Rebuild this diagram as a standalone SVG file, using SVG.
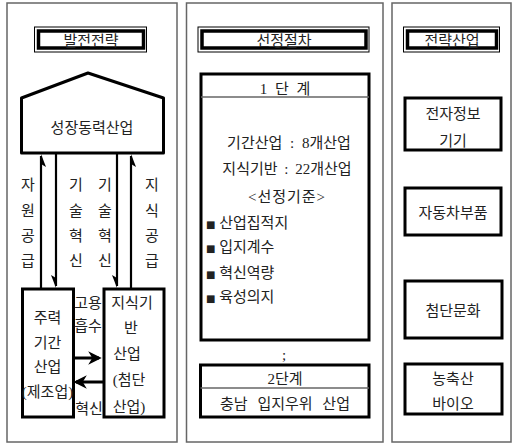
<svg xmlns="http://www.w3.org/2000/svg" width="514" height="445" viewBox="0 0 514 445">
<defs>
<style>
.panel{fill:#fff;stroke:#666;stroke-width:1.5}
.box{fill:#fff;stroke:#000;stroke-width:3}
.thin{fill:none;stroke:#000;stroke-width:1}
.t{font-family:"Liberation Serif","Noto Sans CJK KR",serif;font-size:15px;fill:#222;text-anchor:middle}
.tl{font-family:"Liberation Serif","Noto Sans CJK KR",serif;font-size:15px;fill:#222}
.ln{stroke:#000;stroke-width:2.2;fill:none}
.hd{fill:#000}
.ha{stroke:#000;stroke-width:3;fill:none}
</style>
<marker id="ah" viewBox="0 0 10 10" refX="8" refY="5" markerWidth="4.5" markerHeight="4.5" orient="auto" markerUnits="strokeWidth">
<path d="M0,0 L10,5 L0,10 L3,5 z" fill="#000"/>
</marker>
</defs>
<rect width="514" height="445" fill="#fff"/>
<g id="panels">
<rect class="panel" x="7" y="3" width="170" height="439"/>
<rect class="panel" x="186.5" y="3" width="196.5" height="439"/>
<rect class="panel" x="392" y="3" width="119" height="439"/>
</g>
<g id="title1">
<rect class="thin" x="34.5" y="27" width="112" height="25"/>
<rect x="38.5" y="31" width="105" height="17" fill="none" stroke="#000" stroke-width="3.5"/>
<text class="t" x="91" y="46">발전전략</text>
</g>
<g id="title2">
<rect class="thin" x="198" y="27" width="171" height="25"/>
<rect x="202" y="31" width="164" height="17" fill="none" stroke="#000" stroke-width="3.5"/>
<text class="t" x="284" y="46">선정절차</text>
</g>
<g id="title3">
<rect class="thin" x="403.5" y="27" width="96" height="25"/>
<rect x="407.5" y="31" width="89" height="17" fill="none" stroke="#000" stroke-width="3.5"/>
<text class="t" x="452" y="46">전략산업</text>
</g>
<g id="growth">
<polygon points="21.5,98 88,73 163.5,98 163.5,153 21.5,153" fill="#fff" stroke="#000" stroke-width="3" stroke-linejoin="round"/>
<text class="t" x="92" y="132.5">성장동력산업</text>
</g>
<g id="mainstay">
<rect class="box" x="22.5" y="289" width="51" height="128"/>
<text class="t" x="47.5" y="322.5">주력</text>
<text class="t" x="47.5" y="347.5">기간</text>
<text class="t" x="47.5" y="371.5">산업</text>
<text class="t" x="47.5" y="396.5">(제조업)</text>
</g>
<g id="knowledge">
<rect class="box" x="104" y="289" width="60" height="128"/>
<text class="t" x="132" y="307.5">지식기</text>
<text class="t" x="131" y="332.5">반</text>
<text class="t" x="127" y="358.5">산업</text>
<text class="t" x="129" y="385">(첨단</text>
<text class="t" x="129" y="411.5">산업)</text>
</g>
<g id="connectors">
<line class="ln" x1="41" y1="288" x2="41" y2="156"/>
<polygon class="hd" points="41,154 46,167 41,164"/>
<line class="ln" x1="56" y1="154" x2="56" y2="286"/>
<polygon class="hd" points="56,288 51,275 56,278"/>
<line class="ln" x1="117" y1="154" x2="117" y2="286"/>
<polygon class="hd" points="117,288 112,275 117,278"/>
<line class="ln" x1="131" y1="288" x2="131" y2="156"/>
<polygon class="hd" points="131,154 136,167 131,164"/>
<line class="ha" x1="74" y1="358" x2="99" y2="358" marker-end="url(#ah)"/>
<line class="ha" x1="103" y1="382" x2="76" y2="382" marker-end="url(#ah)"/>
</g>
<g id="labels">
<text class="t" x="28" y="189.5">자</text>
<text class="t" x="28" y="215.5">원</text>
<text class="t" x="28" y="240.5">공</text>
<text class="t" x="28" y="265.5">급</text>
<text class="t" x="76" y="189.5">기</text>
<text class="t" x="76" y="215.5">술</text>
<text class="t" x="76" y="240.5">혁</text>
<text class="t" x="76" y="265.5">신</text>
<text class="t" x="105" y="189.5">기</text>
<text class="t" x="105" y="215.5">술</text>
<text class="t" x="105" y="240.5">혁</text>
<text class="t" x="105" y="265.5">신</text>
<text class="t" x="152" y="189.5">지</text>
<text class="t" x="152" y="215.5">식</text>
<text class="t" x="152" y="240.5">공</text>
<text class="t" x="152" y="265.5">급</text>
<text class="t" x="88" y="307.5">고용</text>
<text class="t" x="88" y="330.5">흡수</text>
<text class="t" x="89" y="413.5">혁신</text>
</g>
<g id="stage1">
<rect class="box" x="201" y="74" width="168" height="266"/>
<line x1="201" y1="97" x2="369" y2="97" stroke="#666" stroke-width="1.5"/>
<text class="t" x="285" y="93.5" word-spacing="4">1 단 계</text>
<text class="t" x="289" y="147.5" word-spacing="4">기간산업 : 8개산업</text>
<text class="t" x="287" y="173.5" word-spacing="3">지식기반 : 22개산업</text>
<text class="t" x="287" y="201.5" letter-spacing="1">&lt;선정기준&gt;</text>
<text class="tl" x="206" y="227.5"><tspan font-family="DejaVu Sans" font-size="10">■</tspan> 산업집적지</text>
<text class="tl" x="206" y="251.5"><tspan font-family="DejaVu Sans" font-size="10">■</tspan> 입지계수</text>
<text class="tl" x="206" y="277.5"><tspan font-family="DejaVu Sans" font-size="10">■</tspan> 혁신역량</text>
<text class="tl" x="206" y="301.5"><tspan font-family="DejaVu Sans" font-size="10">■</tspan> 육성의지</text>
</g>
<g id="dots">
<text class="t" x="284" y="360">;</text>
</g>
<g id="stage2">
<rect class="box" x="200.5" y="365" width="168.5" height="52"/>
<line x1="200.5" y1="388" x2="369" y2="388" stroke="#666" stroke-width="1.5"/>
<text class="t" x="285" y="383.5">2단계</text>
<text class="t" x="285" y="408.5" word-spacing="6">충남 입지우위 산업</text>
</g>
<g id="s1">
<rect class="box" x="405" y="98" width="96" height="52"/>
<text class="t" x="453" y="118.5">전자정보</text>
<text class="t" x="453" y="145.5">기기</text>
</g>
<g id="s2">
<rect class="box" x="405" y="188" width="96" height="47"/>
<text class="t" x="453" y="217.5">자동차부품</text>
</g>
<g id="s3">
<rect class="box" x="405" y="281" width="97" height="57"/>
<text class="t" x="453" y="315.5">첨단문화</text>
</g>
<g id="s4">
<rect class="box" x="405" y="364" width="97" height="50"/>
<text class="t" x="453" y="383.5">농축산</text>
<text class="t" x="453" y="408.5">바이오</text>
</g>
</svg>
